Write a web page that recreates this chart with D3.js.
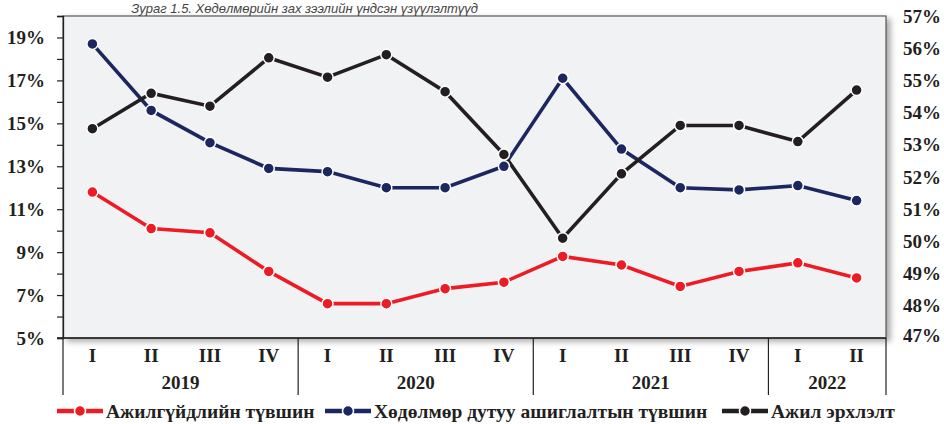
<!DOCTYPE html>
<html>
<head>
<meta charset="utf-8">
<script src="https://cdn.jsdelivr.net/npm/d3@7"></script>
<style>
  body { margin: 0; background: #fff; }
  svg { display: block; }
</style>
</head>
<body>
<div id="chart"></div>
<script>
// quarters and years
const quarters = ["I", "II", "III", "IV", "I", "II", "III", "IV", "I", "II", "III", "IV", "I", "II"];
const years = [
  { label: "2019", count: 4 },
  { label: "2020", count: 4 },
  { label: "2021", count: 4 },
  { label: "2022", count: 2 }
];

// series values, % (unemployment and labour underutilization on left axis, employment on right)
const unemployment = [11.8, 10.1, 9.9, 8.1, 6.6, 6.6, 7.3, 7.6, 8.8, 8.4, 7.4, 8.1, 8.5, 7.8];
const underutil = [18.7, 15.6, 14.1, 12.9, 12.75, 12.0, 12.0, 13.0, 17.1, 13.8, 12.0, 11.9, 12.1, 11.4];
const employment = [53.5, 54.6, 54.2, 55.7, 55.1, 55.8, 54.65, 52.7, 50.1, 52.1, 53.6, 53.6, 53.1, 54.7];

const leftTicks = [5, 7, 9, 11, 13, 15, 17, 19];
const rightTicks = [47, 48, 49, 50, 51, 52, 53, 54, 55, 56, 57];

const seriesNames = ["Ажилгүйдлийн түвшин", "Хөдөлмөр дутуу ашиглалтын түвшин", "Ажил эрхлэлт"];
const title = "Зураг 1.5. Хөдөлмөрийн зах зээлийн үндсэн үзүүлэлтүүд";

const width = 944;
const height = 424;
const margin = { top: 16, right: 58, bottom: 86, left: 63 };
const innerW = width - margin.left - margin.right;
const innerH = height - margin.top - margin.bottom;
const font = "'Liberation Serif', 'Times New Roman', serif";
const ink = "#231f20";

const svg = d3.select("#chart")
  .append("svg")
  .attr("width", width)
  .attr("height", height)
  .attr("font-family", font);

const defs = svg.append("defs");
const shadow = defs.append("filter")
  .attr("id", "shadow")
  .attr("x", "-5%").attr("y", "-5%")
  .attr("width", "115%").attr("height", "120%");
shadow.append("feGaussianBlur").attr("in", "SourceAlpha").attr("stdDeviation", 3);
shadow.append("feOffset").attr("dx", 4).attr("dy", 3).attr("result", "b");
shadow.append("feComponentTransfer").append("feFuncA").attr("type", "linear").attr("slope", 0.35);
const merge = shadow.append("feMerge");
merge.append("feMergeNode");
merge.append("feMergeNode").attr("in", "SourceGraphic");

// title line above the chart
svg.append("text")
  .attr("x", 478)
  .attr("y", 12.5)
  .attr("text-anchor", "end")
  .attr("font-family", "'Liberation Sans', Arial, sans-serif")
  .attr("font-style", "italic")
  .attr("font-size", 13)
  .attr("fill", "#444")
  .text(title);

const g = svg.append("g").attr("transform", `translate(${margin.left},${margin.top})`);

const x = d3.scalePoint()
  .domain(d3.range(quarters.length))
  .range([0, innerW])
  .padding(0.5);
const step = x.step();

const yL = d3.scaleLinear().domain([5, 20]).range([innerH, 0]);
const yR = d3.scaleLinear().domain([47, 57]).range([innerH, 0]);

// plot background with shadow
g.append("rect")
  .attr("width", innerW)
  .attr("height", innerH)
  .attr("fill", "#f1f2f4")
  .attr("stroke", "#3a3a3a")
  .attr("stroke-width", 1)
  .attr("filter", "url(#shadow)");

// left axis
const leftAxis = g.append("g")
  .call(d3.axisLeft(yL).tickValues(d3.range(5, 21, 1)).tickSize(6).tickFormat(""));
leftAxis.select(".domain").attr("stroke", ink).attr("stroke-width", 1.3);
leftAxis.selectAll(".tick line").attr("stroke", ink).attr("stroke-width", 1.2);

g.append("g")
  .selectAll("text")
  .data(leftTicks)
  .join("text")
  .attr("x", -18)
  .attr("y", d => yL(d))
  .attr("dy", "0.35em")
  .attr("text-anchor", "end")
  .attr("font-size", 19)
  .attr("font-weight", "bold")
  .attr("fill", ink)
  .text(d => d + "%");

// right axis labels (no ticks)
g.append("g")
  .selectAll("text")
  .data(rightTicks)
  .join("text")
  .attr("x", innerW + 17)
  .attr("y", d => yR(d))
  .attr("dy", d => d === 47 ? "0.2em" : "0.35em")
  .attr("text-anchor", "start")
  .attr("font-size", 19)
  .attr("font-weight", "bold")
  .attr("fill", ink)
  .text(d => d + "%");

// bottom line
g.append("line")
  .attr("x1", -6).attr("x2", innerW)
  .attr("y1", innerH).attr("y2", innerH)
  .attr("stroke", ink).attr("stroke-width", 1.5);

// category labels
g.append("g")
  .selectAll("text")
  .data(quarters)
  .join("text")
  .attr("x", (d, i) => x(i))
  .attr("y", innerH + 24)
  .attr("text-anchor", "middle")
  .attr("font-size", 19)
  .attr("font-weight", "bold")
  .attr("fill", ink)
  .text(d => d);

// year groups and separators
let start = 0;
const bounds = [0];
years.forEach(yr => {
  const x0 = start * step;
  const x1 = (start + yr.count) * step;
  g.append("text")
    .attr("x", (x0 + x1) / 2)
    .attr("y", innerH + 51)
    .attr("text-anchor", "middle")
    .attr("font-size", 19)
    .attr("font-weight", "bold")
    .attr("fill", ink)
    .text(yr.label);
  start += yr.count;
  bounds.push(x1);
});
g.append("g")
  .selectAll("line")
  .data(bounds)
  .join("line")
  .attr("x1", d => d).attr("x2", d => d)
  .attr("y1", innerH).attr("y2", innerH + 57)
  .attr("stroke", ink).attr("stroke-width", 1.2);

// series
const series = [
  { name: seriesNames[0], values: unemployment, y: yL, color: "#ed1c24" },
  { name: seriesNames[1], values: underutil, y: yL, color: "#1b275e" },
  { name: seriesNames[2], values: employment, y: yR, color: "#231f20" }
];

series.forEach(s => {
  const line = d3.line()
    .x((d, i) => x(i))
    .y(d => s.y(d));
  g.append("path")
    .datum(s.values)
    .attr("fill", "none")
    .attr("stroke", s.color)
    .attr("stroke-width", 3.6)
    .attr("d", line);
});

series.forEach(s => {
  g.append("g")
    .selectAll("circle")
    .data(s.values)
    .join("circle")
    .attr("cx", (d, i) => x(i))
    .attr("cy", d => s.y(d))
    .attr("r", 5.5)
    .attr("fill", s.color)
    .attr("stroke", "#fff")
    .attr("stroke-width", 1.5);
});

// legend
const legendX = [57, 325, 722];
const legend = svg.append("g");
series.forEach((s, i) => {
  const lg = legend.append("g").attr("transform", `translate(${legendX[i]},411)`);
  lg.append("line")
    .attr("x1", 0).attr("x2", 46)
    .attr("stroke", s.color).attr("stroke-width", 4.5);
  lg.append("circle")
    .attr("cx", 23).attr("r", 5.5)
    .attr("fill", s.color)
    .attr("stroke", "#fff").attr("stroke-width", 1.5);
  lg.append("text")
    .attr("x", 49)
    .attr("y", 7)
    .attr("font-size", 19.5)
    .attr("font-weight", "bold")
    .attr("fill", ink)
    .text(s.name);
});
</script>
</body>
</html>
